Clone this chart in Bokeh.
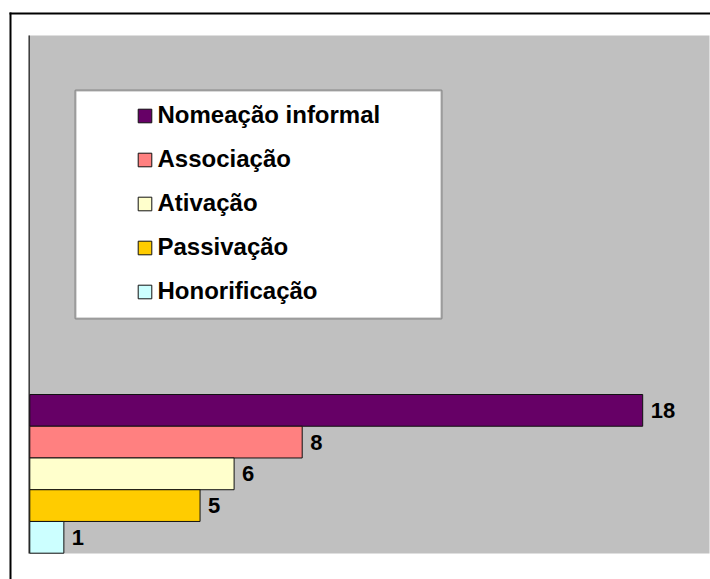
from bokeh.plotting import figure
from bokeh.models import BoxAnnotation, Legend, LegendItem, ColumnDataSource, Range1d
from bokeh.embed import file_html
from bokeh.resources import INLINE
from bokeh.core.properties import value

# ---- data ----
categories = ["Nomeação informal", "Associação", "Ativação", "Passivação", "Honorificação"]
values = [18, 8, 6, 5, 1]
colors = ["#660066", "#FF8080", "#FFFFCC", "#FFCC00", "#CCFFFF"]

# ---- layout constants (pixel geometry) ----
W, H = 710, 579
PX_X = 34.05      # pixels per unit on x
X0 = 29.3         # canvas px of value 0
PX_Y = 31.74      # pixels per category slot
BAR_BOTTOM = 552.7
n = len(categories)
ypos = [n - 1 - i for i in range(n)]

x_start = -X0 / PX_X
x_end = x_start + W / PX_X
y_start = -0.5 - (H - BAR_BOTTOM) / PX_Y
y_end = y_start + H / PX_Y


def fx(px):
    return x_start + px / PX_X


def fy(py):
    return y_start + (H - py) / PX_Y


p = figure(width=W, height=H, x_range=Range1d(x_start, x_end), y_range=Range1d(y_start, y_end),
           x_axis_location=None, y_axis_location=None, toolbar_location=None,
           output_backend="svg", min_border=0)
p.outline_line_color = None
p.background_fill_color = "white"
p.border_fill_color = "white"
p.grid.visible = False

FONT = "Liberation Sans"

# outer frame (left and top edges only; the others lie outside the picture)
p.add_layout(BoxAnnotation(left=fx(9), right=fx(11), top=fy(12), bottom=None,
                           fill_color="black", fill_alpha=1, line_color=None, level="underlay"))
p.add_layout(BoxAnnotation(left=fx(9), right=None, top=fy(12), bottom=fy(14),
                           fill_color="black", fill_alpha=1, line_color=None, level="underlay"))
# grey plot area
p.add_layout(BoxAnnotation(left=fx(28), right=fx(709), top=fy(35), bottom=fy(553),
                           fill_color="#C0C0C0", fill_alpha=1, line_color=None, level="underlay"))
# value axis line
p.add_layout(BoxAnnotation(left=fx(28), right=fx(29.5), top=fy(35), bottom=fy(553),
                           fill_color="#404040", fill_alpha=1, line_color=None, level="underlay"))

source = ColumnDataSource(dict(y=ypos, right=values, color=colors,
                               txt=[str(v) for v in values]))
r = p.hbar(y="y", left=0, right="right", height=1, fill_color="color",
           line_color="#111111", line_width=1, source=source)

p.text(x="right", y="y", text="txt", x_offset=8, text_baseline="middle", text_align="left",
       text_font=value(FONT), text_font_style="bold", text_font_size="22px",
       text_color="black", source=source)

# legend box
p.add_layout(BoxAnnotation(left=fx(75), right=fx(441), top=fy(90), bottom=fy(318),
                           fill_color="white", fill_alpha=1, line_color="black", line_width=2))

items = [LegendItem(label=categories[i], renderers=[r], index=i) for i in range(n)]
legend = Legend(items=items, location=(135.5, H - 305), padding=0, margin=0,
                spacing=16, glyph_width=17, glyph_height=17, label_height=27, label_standoff=5,
                label_text_font=FONT, label_text_font_style="bold",
                label_text_font_size="24px", label_text_color="black",
                border_line_color=None, background_fill_alpha=0)
p.add_layout(legend)

open("out.html", "w").write(file_html(p, INLINE))
